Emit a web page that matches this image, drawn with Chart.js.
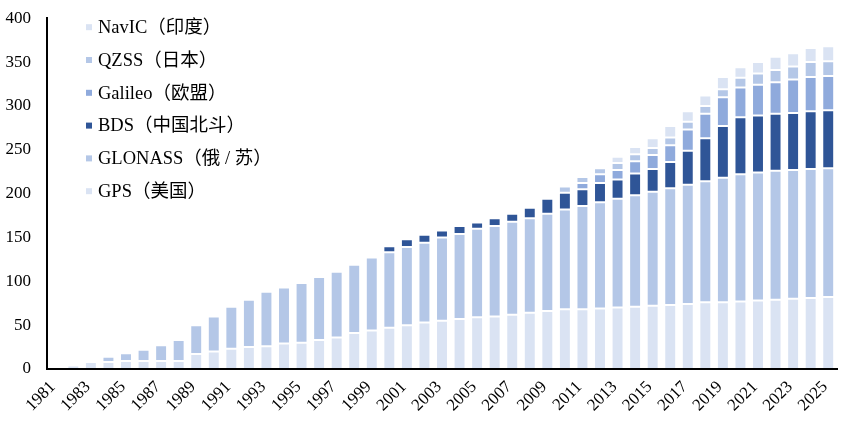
<!DOCTYPE html>
<html>
<head>
<meta charset="utf-8">
<script src="https://cdn.jsdelivr.net/npm/chart.js@4"></script>
<style>
  html, body { margin: 0; padding: 0; background: #fff; }
  #wrap { width: 854px; height: 444px; position: relative; }
</style>
</head>
<body>
<div id="wrap"><canvas id="chart"></canvas></div>
<script>
// Years on the x axis
const years = [];
for (let y = 1981; y <= 2025; y++) years.push(String(y));

// Satellites per system, 1981 .. 2025
const gps = [2, 4, 8, 8, 9, 9, 9, 9, 17, 20,
    23, 25, 26, 29, 30, 33, 36, 41, 44, 47,
    50, 53, 55, 57, 59, 60, 62, 64, 66, 68,
    68, 69, 70, 71, 72, 73, 74, 76, 76, 77,
    78, 79, 80, 81, 82];
const glonass = [0, 0, 0, 6, 9, 13, 18, 24, 33, 40,
    48, 54, 62, 64, 68, 72, 75, 78, 83, 86,
    89, 91, 95, 97, 101, 103, 106, 108, 111, 114,
    118, 121, 124, 127, 130, 133, 136, 138, 142, 145,
    146, 147, 147, 147, 147];
const bds = [0, 0, 0, 0, 0, 0, 0, 0, 0, 0,
    0, 0, 0, 0, 0, 0, 0, 0, 0, 7,
    9, 9, 8, 9, 7, 9, 9, 12, 17, 19,
    19, 22, 22, 25, 26, 30, 39, 49, 59, 65,
    65, 65, 65, 66, 66];
const galileo = [0, 0, 0, 0, 0, 0, 0, 0, 0, 0,
    0, 0, 0, 0, 0, 0, 0, 0, 0, 0,
    0, 0, 0, 0, 0, 0, 0, 0, 0, 0,
    7, 10, 11, 14, 16, 19, 24, 28, 33, 34,
    35, 36, 38, 39, 39];
const qzss = [0, 0, 0, 0, 0, 0, 0, 0, 0, 0,
    0, 0, 0, 0, 0, 0, 0, 0, 0, 0,
    0, 0, 0, 0, 0, 0, 0, 0, 0, 7,
    7, 7, 8, 8, 8, 9, 9, 9, 9, 11,
    13, 14, 15, 17, 17];
const navic = [0, 0, 0, 0, 0, 0, 0, 0, 0, 0,
    0, 0, 0, 0, 0, 0, 0, 0, 0, 0,
    0, 0, 0, 0, 0, 0, 0, 0, 0, 0,
    0, 0, 7, 8, 11, 13, 12, 12, 14, 12,
    13, 15, 15, 16, 17];

const FONT = '"Liberation Serif", "Times New Roman", "Noto Sans CJK SC", serif';

// zero means "no segment"
const seg = arr => arr.map(v => (v ? v : null));

function series(label, data, color, onAxis) {
    return {
        label: label,
        data: seg(data),
        backgroundColor: color,
        borderColor: '#ffffff',
        // white seams between stacked pieces; none on the axis side
        borderWidth: { top: 1, left: 1, right: 1, bottom: onAxis ? 0 : 1 },
        borderSkipped: false,
        inflateAmount: 0,
        barPercentage: 0.68,
        categoryPercentage: 1.0
    };
}

// Legend drawn inside the plot, last series on top
const insideLegend = {
    id: 'insideLegend',
    afterDraw(chart) {
        const ctx = chart.ctx;
        const area = chart.chartArea;
        const list = chart.data.datasets.slice().reverse();
        ctx.save();
        ctx.font = '18.5px ' + FONT;
        ctx.textBaseline = 'middle';
        list.forEach((ds, i) => {
            const y = area.top + 9 + i * 32.8;
            const x = area.left + 39;
            ctx.fillStyle = ds.backgroundColor;
            ctx.fillRect(x, y - 3, 6, 6);
            ctx.fillStyle = '#000';
            ctx.fillText(ds.label, x + 12, y + 1);
        });
        ctx.restore();
    }
};

new Chart(document.getElementById('chart'), {
    type: 'bar',
    data: {
        labels: years,
        datasets: [
            series('GPS（美国）', gps, '#DAE3F3', true),
            series('GLONASS（俄 / 苏）', glonass, '#B4C7E7'),
            series('BDS（中国北斗）', bds, '#2F5597'),
            series('Galileo（欧盟）', galileo, '#8FAADC'),
            series('QZSS（日本）', qzss, '#B4C7E7'),
            series('NavIC（印度）', navic, '#DAE3F3')
        ]
    },
    options: {
        responsive: true,
        maintainAspectRatio: false,
        animation: false,
        layout: { padding: { top: 12, right: 17, left: 0, bottom: 0 } },
        plugins: {
            legend: { display: false },
            tooltip: { enabled: false }
        },
        scales: {
            x: {
                stacked: true,
                grid: { display: false },
                border: { display: true, color: '#000', width: 2, z: 1 },
                ticks: {
                    autoSkip: false,
                    maxRotation: 45,
                    minRotation: 45,
                    color: '#000',
                    padding: 0,
                    labelOffset: -3,
                    font: { family: FONT, size: 17 },
                    callback: (v, i) => (i % 2 === 0 ? years[i] : '')
                },
                afterFit: (s) => { s.height = 75; }
            },
            y: {
                stacked: true,
                min: 0,
                max: 400,
                grid: { display: false },
                border: { display: true, color: '#000', width: 2, z: 1 },
                ticks: {
                    stepSize: 50,
                    color: '#000',
                    padding: 8,
                    font: { family: FONT, size: 17 }
                },
                afterFit: (s) => { s.width = 47; }
            }
        }
    },
    plugins: [insideLegend]
});
</script>
</body>
</html>
